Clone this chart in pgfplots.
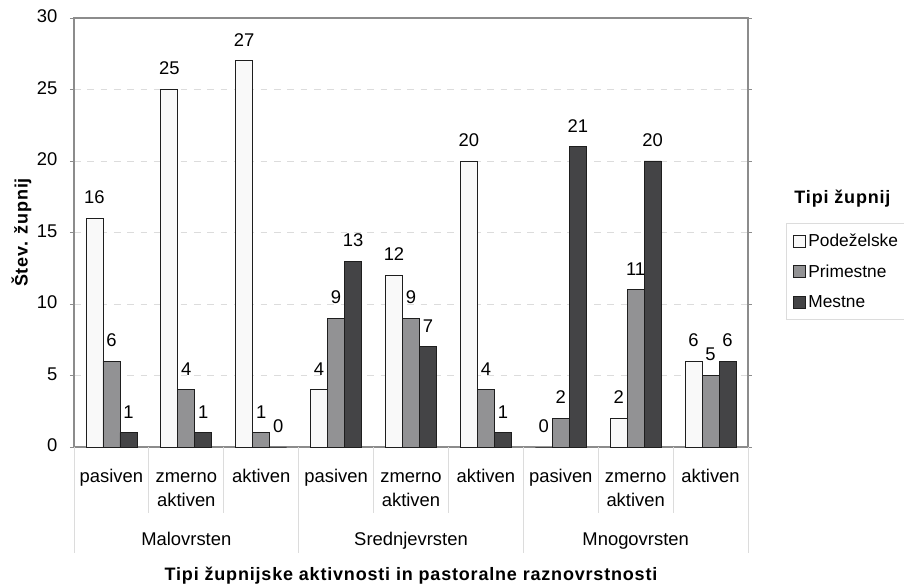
\documentclass[border=0pt]{standalone}
\usepackage{pgfplots}
\pgfplotsset{compat=1.18}
\usepackage{fontspec}
\setmainfont{Liberation Sans}
\definecolor{cwhite}{HTML}{F9F9F9}
\definecolor{cgray}{HTML}{929294}
\definecolor{cdark}{HTML}{444446}
\definecolor{cframe}{HTML}{8C8C8C}
\definecolor{csep}{HTML}{DCDCDC}
\definecolor{cedge}{HTML}{1E1E1E}
\newcommand{\lbl}{\fontsize{13.8}{18}\selectfont}
\newcommand{\lgd}{\fontsize{13.0}{18}\selectfont}
\newcommand{\bft}{\fontsize{13.5}{18}\selectfont\bfseries\addfontfeature{LetterSpace=4.5}}
\begin{document}
\begin{tikzpicture}
\path[use as bounding box] (-55.5pt,-102.75pt) rectangle (622.5pt,335.25pt);
\begin{axis}[
  at={(0,0)}, anchor=south west,
  scale only axis, width=505.5pt, height=321.75pt,
  xmin=-0.5, xmax=8.5, ymin=0, ymax=30,
  ytick={0,5,...,30},
  xtick={0,...,8},
  xticklabels={pasiven,{zmerno\\aktiven},aktiven,pasiven,{zmerno\\aktiven},aktiven,pasiven,{zmerno\\aktiven},aktiven},
  typeset ticklabels with strut,
  xticklabel style={align=center, font=\lbl, anchor=north, inner sep=0pt, yshift=-10.5pt},
  yticklabel style={font=\lbl, xshift=-6pt},
  /pgf/number format/assume math mode=true,
  x tick style={draw=none},
  y tick style={draw=cframe},
  tick align=outside, major tick length=3pt,
  axis line style={draw=cframe, line width=0.8pt},
  ymajorgrids, grid style={draw=csep, dash pattern=on 5pt off 5pt},
  ybar=0pt, bar width=12.75pt,
  every axis plot/.append style={draw=cedge, line width=0.6pt},
  nodes near coords,
  nodes near coords style={font=\lbl, anchor=south, inner sep=0pt, yshift=10.5pt, text=black},
  clip=false,
  ylabel={Štev. župnij},
  ylabel style={at={(axis description cs:-0.078,0.5)}, anchor=center, font=\bft},
  xlabel={Tipi župnijske aktivnosti in pastoralne raznovrstnosti},
  xlabel style={at={(axis description cs:0.5,0)}, anchor=base, yshift=-100.5pt, font=\bft},
  legend style={at={(rel axis cs:1.0564,0.522)}, anchor=north west, draw=csep, font=\lgd,
    row sep=8pt, inner xsep=5pt, inner ysep=6pt, cells={anchor=west}},
  legend image code/.code={\draw[#1, line width=0.6pt] (0pt,-4.5pt) rectangle (9pt,4.5pt);},
]
\addplot[fill=cwhite] coordinates {(0,16) (1,25) (2,27) (3,4) (4,12) (5,20) (6,0) (7,2) (8,6)};
\addplot[fill=cgray] coordinates {(0,6) (1,4) (2,1) (3,9) (4,9) (5,4) (6,2) (7,11) (8,5)};
\addplot[fill=cdark] coordinates {(0,1) (1,1) (2,0) (3,13) (4,7) (5,1) (6,21) (7,20) (8,6)};
\legend{Podeželske,Primestne,Mestne}
% category separators below the axis
\pgfplotsinvokeforeach{0.5,1.5,3.5,4.5,6.5,7.5}{
  \draw[csep, line width=0.6pt] (axis cs:#1,0) -- ([yshift=-49.5pt]axis cs:#1,0);
}
\pgfplotsinvokeforeach{-0.5,2.5,5.5,8.5}{
  \draw[csep, line width=0.6pt] (axis cs:#1,0) -- ([yshift=-79.5pt]axis cs:#1,0);
}
\node[font=\lbl, anchor=base] at (axis cs:1,0) [yshift=-73.9pt] {Malovrsten};
\node[font=\lbl, anchor=base] at (axis cs:4,0) [yshift=-73.9pt] {Srednjevrsten};
\node[font=\lbl, anchor=base] at (axis cs:7,0) [yshift=-73.9pt] {Mnogovrsten};
\node[font=\bft, anchor=west] at (rel axis cs:1.062,0.580) {Tipi župnij};
\end{axis}
\end{tikzpicture}
\end{document}
